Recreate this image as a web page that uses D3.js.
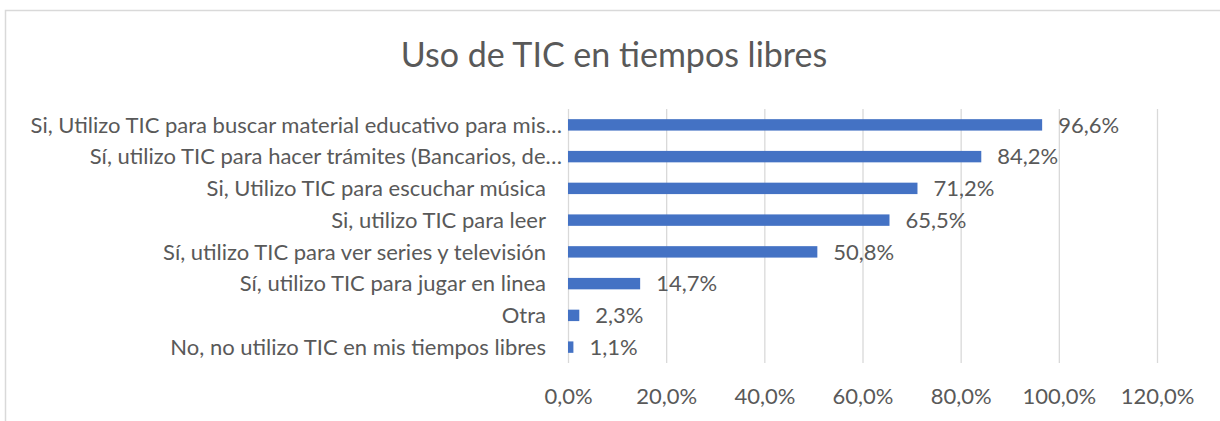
<!DOCTYPE html>
<html>
<head>
<meta charset="utf-8">
<script src="https://cdn.jsdelivr.net/npm/d3@7"></script>
<style>
  body { margin: 0; background: #fff; }
  svg text { font-family: Lato, "Liberation Sans", sans-serif; fill: #595959; }
</style>
</head>
<body>
<div id="chart"></div>
<script>
// dane wykresu
const title = "Uso de TIC en tiempos libres";
const categories = [
    "Si, Utilizo TIC para buscar material educativo para mis…",
    "Sí, utilizo TIC para hacer trámites (Bancarios, de…",
    "Si, Utilizo TIC para escuchar música",
    "Si, utilizo TIC para leer",
    "Sí, utilizo TIC para ver series y televisión",
    "Sí, utilizo TIC para jugar en linea",
    "Otra",
    "No, no utilizo TIC en mis tiempos libres"
];
const values = [96.6, 84.2, 71.2, 65.5, 50.8, 14.7, 2.3, 1.1];
const xTicks = [0, 20, 40, 60, 80, 100, 120];

const width = 1220;
const height = 421;
const margin = { top: 109, right: 63, bottom: 58, left: 568 };
const innerW = width - margin.left - margin.right;
const innerH = height - margin.top - margin.bottom;

const fmt = d => d.toFixed(1).replace(".", ",") + "%";

const svg = d3.select("#chart")
    .append("svg")
    .attr("width", width)
    .attr("height", height);

// ramka wykresu
svg.append("rect")
    .attr("x", 5.5)
    .attr("y", 10.5)
    .attr("width", 1230)
    .attr("height", 430)
    .attr("fill", "none")
    .attr("stroke", "#d9d9d9")
    .attr("stroke-width", 1.5);

// tytuł
svg.append("text")
    .attr("x", 614)
    .attr("y", 67)
    .attr("text-anchor", "middle")
    .style("font-size", "34px")
    .text(title);

const g = svg.append("g")
    .attr("transform", `translate(${margin.left},${margin.top})`);

const x = d3.scaleLinear()
    .domain([0, 120])
    .range([0, innerW]);

const y = d3.scaleBand()
    .domain(categories)
    .range([0, innerH])
    .paddingInner(0.64)
    .paddingOuter(0.32);

// siatka + oś x
const xAxis = g.append("g")
    .attr("transform", `translate(0,${innerH})`)
    .call(d3.axisBottom(x).tickValues(xTicks).tickSize(-innerH).tickFormat(fmt));
xAxis.select(".domain").remove();
xAxis.selectAll("line").attr("stroke", "#d9d9d9").attr("stroke-width", 1.3);
xAxis.selectAll("text")
    .attr("y", 33)
    .attr("dy", "0.35em")
    .style("font-size", "22px");

// oś y (kategorie)
const yAxis = g.append("g")
    .call(d3.axisLeft(y).tickSize(0));
yAxis.select(".domain").remove();
yAxis.selectAll("text")
    .attr("x", d => d.endsWith("…") ? -6 : -22)
    .attr("dy", "0.35em")
    .style("font-size", "22px");

// słupki
g.selectAll(".bar")
    .data(values)
    .enter()
    .append("rect")
    .attr("class", "bar")
    .attr("x", 0)
    .attr("y", (d, i) => y(categories[i]))
    .attr("width", d => x(d))
    .attr("height", y.bandwidth())
    .attr("fill", "#4472c4");

// etykiety wartości
g.selectAll(".val")
    .data(values)
    .enter()
    .append("text")
    .attr("class", "val")
    .attr("x", d => x(d) + 16)
    .attr("y", (d, i) => y(categories[i]) + y.bandwidth() / 2)
    .attr("dy", "0.35em")
    .style("font-size", "22px")
    .text(fmt);
</script>
</body>
</html>
